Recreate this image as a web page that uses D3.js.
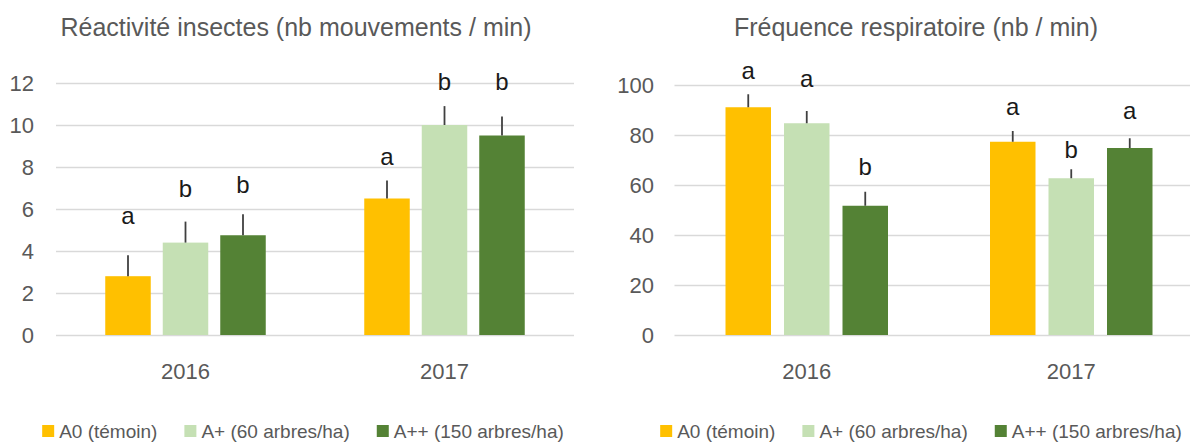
<!DOCTYPE html>
<html>
<head>
<meta charset="utf-8">
<script src="https://cdn.jsdelivr.net/npm/d3@7"></script>
<style>
  html, body { margin: 0; padding: 0; background: #ffffff; }
  svg { display: block; }
  text { font-family: "Liberation Sans", Arial, sans-serif; }
</style>
</head>
<body>
<svg id="chart" width="1190" height="443"></svg>
<script>
// ---------------- data ----------------
const categories = ["2016", "2017"];
const series = ["A0 (témoin)", "A+ (60 arbres/ha)", "A++ (150 arbres/ha)"];

// Réactivité insectes (nb mouvements / min) — [category][series]
const reactTitle = "Réactivité insectes (nb mouvements / min)";
const reactMeans = [[2.8, 4.4, 4.75], [6.5, 10.0, 9.5]];
const reactErrors = [[1.0, 1.0, 1.0], [0.86, 0.9, 0.9]];
const reactLetters = [["a", "b", "b"], ["a", "b", "b"]];
const reactLetterLevels = [[5.56, 6.98, 7.19], [8.41, 12.06, 12.06]];
const reactTicks = [0, 2, 4, 6, 8, 10, 12];

// Fréquence respiratoire (nb / min) — [category][series]
const respTitle = "Fréquence respiratoire (nb / min)";
const respMeans = [[91.1, 84.7, 51.7], [77.3, 62.7, 74.8]];
const respErrors = [[5.2, 4.9, 5.6], [4.3, 3.6, 3.9]];
const respLetters = [["a", "a", "b"], ["a", "b", "a"]];
const respLetterLevels = [[105, 101.7, 67.3], [90.3, 74.3, 88.7]];
const respTicks = [0, 20, 40, 60, 80, 100];

// ---------------- styles ----------------
const seriesColors = ["#FFC000", "#C5E0B4", "#548235"];
const textColor = "#595959";
const gridColor = "#D9D9D9";
const errColor = "#404040";
const letterColor = "#1a1a1a";

const svg = d3.select("#chart");

function drawChart(cfg) {
  const g = svg.append("g");

  const x = d3.scaleBand().domain(categories).range([cfg.x0, cfg.x1]).padding(0);
  const y = d3.scaleLinear().domain([0, cfg.yMax]).range([cfg.yBottom, cfg.yTop]);
  const pi = 1 - cfg.barWidth / cfg.step;
  const xs = d3.scaleBand().domain(series)
    .range([-1.5 * cfg.step, 1.5 * cfg.step])
    .paddingInner(pi).paddingOuter(pi / 2);

  // gridlines + y tick labels
  const yAxis = d3.axisLeft(y).tickValues(cfg.ticks)
    .tickSize(-(cfg.x1 - cfg.x0)).tickPadding(cfg.tickPad);
  const ya = g.append("g").attr("transform", `translate(${cfg.x0},0)`).call(yAxis);
  ya.select(".domain").remove();
  ya.selectAll(".tick line").attr("stroke", gridColor).attr("stroke-width", 1.6);
  ya.selectAll(".tick text").attr("fill", textColor).style("font-size", "22px");

  // category labels
  const xAxis = d3.axisBottom(x).tickSize(0).tickPadding(28);
  const xa = g.append("g").attr("transform", `translate(0,${cfg.yBottom})`).call(xAxis);
  xa.select(".domain").remove();
  xa.selectAll(".tick text").attr("fill", textColor).style("font-size", "22px");

  // flatten
  const rows = [];
  categories.forEach((c, ci) => {
    series.forEach((s, si) => {
      rows.push({
        c, s, si,
        v: cfg.means[ci][si],
        e: cfg.errors[ci][si],
        l: cfg.letters[ci][si],
        ll: cfg.levels[ci][si]
      });
    });
  });

  const cx = d => x(d.c) + x.bandwidth() / 2 + xs(d.s);

  g.append("g").selectAll("rect").data(rows).join("rect")
    .attr("x", d => cx(d))
    .attr("y", d => y(d.v))
    .attr("width", xs.bandwidth())
    .attr("height", d => y(0) - y(d.v))
    .attr("fill", d => seriesColors[d.si]);

  g.append("g").selectAll("line").data(rows).join("line")
    .attr("x1", d => cx(d) + xs.bandwidth() / 2)
    .attr("x2", d => cx(d) + xs.bandwidth() / 2)
    .attr("y1", d => y(d.v))
    .attr("y2", d => y(d.v + d.e))
    .attr("stroke", errColor)
    .attr("stroke-width", 1.8);

  g.append("g").selectAll("text").data(rows).join("text")
    .attr("x", d => cx(d) + xs.bandwidth() / 2)
    .attr("y", d => y(d.ll) + (d.l === "a" ? 6.2 : 8.6))
    .attr("text-anchor", "middle")
    .attr("fill", letterColor)
    .style("font-size", "24px")
    .text(d => d.l);

  // title
  g.append("text")
    .attr("x", cfg.titleX).attr("y", 36)
    .attr("text-anchor", "middle")
    .attr("fill", textColor)
    .style("font-size", "25px")
    .text(cfg.title);

  // legend
  const lg = g.append("g");
  const items = lg.selectAll("g").data(series).join("g");
  items.append("rect")
    .attr("width", 12).attr("height", 12)
    .attr("y", 425)
    .attr("fill", (d, i) => seriesColors[i]);
  items.append("text")
    .attr("x", 17).attr("y", 438)
    .attr("fill", textColor)
    .style("font-size", "19px")
    .text(d => d);
  const widths = [];
  items.each(function () {
    const w = d3.select(this).select("text").node().getComputedTextLength();
    widths.push(17 + w);
  });
  const total = d3.sum(widths) + 27 * (widths.length - 1);
  let start = cfg.legendCenter - total / 2;
  items.attr("transform", (d, i) => {
    const t = `translate(${start},0)`;
    start += widths[i] + 27;
    return t;
  });
}

drawChart({
  title: reactTitle, means: reactMeans, errors: reactErrors,
  letters: reactLetters, levels: reactLetterLevels, ticks: reactTicks,
  yMax: 12, x0: 56, x1: 574, yBottom: 335, yTop: 83,
  step: 57.5, barWidth: 45.5, tickPad: 22,
  titleX: 296, legendCenter: 303
});

drawChart({
  title: respTitle, means: respMeans, errors: respErrors,
  letters: respLetters, levels: respLetterLevels, ticks: respTicks,
  yMax: 100, x0: 674.5, x1: 1203.5, yBottom: 335, yTop: 85,
  step: 58.5, barWidth: 45.5, tickPad: 20.5,
  titleX: 916, legendCenter: 921
});
</script>
</body>
</html>
